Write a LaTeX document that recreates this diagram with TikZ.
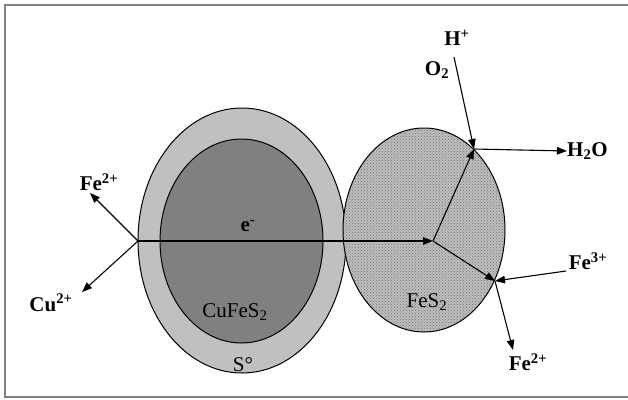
\documentclass[tikz,border=0pt]{standalone}
\usepackage{fontspec}
\setmainfont{Liberation Serif}
\usetikzlibrary{arrows.meta,patterns}
\definecolor{shell}{RGB}{192,192,192}
\definecolor{core}{RGB}{128,128,128}
\definecolor{pyr}{RGB}{190,190,190}
\begin{document}
\begin{tikzpicture}[x=1pt,y=-1pt,
  conn/.style={line width=1.1pt,-{Triangle[length=10pt,width=7.5pt]}},
  ion/.style={font=\fontsize{21}{24}\selectfont\bfseries, inner sep=0pt},
  mineral/.style={font=\fontsize{21}{24}\selectfont, inner sep=0pt},
  grain/.style={line width=1pt}]
\useasboundingbox (0,0) rectangle (628,399);
\draw[gray,line width=1.5pt] (640,5) -- (5,5) -- (5,397) -- (640,397);
% grains
\draw[grain, fill=shell] (242,240.5) ellipse [x radius=104, y radius=132.5];
\draw[grain, fill=core] (241.5,241) ellipse [x radius=81.5, y radius=102];
\fill[pyr] (424,230) ellipse [x radius=81, y radius=102];
\path[pattern=crosshatch dots, pattern color=gray!90!black] (424,230) ellipse [x radius=81, y radius=102];
\draw[grain] (424,230) ellipse [x radius=81, y radius=102];
% labels
\node[mineral] (cufes) at (235,312) {CuFeS\textsubscript{2}};
\node[mineral] (s0) at (243,365) {S°};
\node[mineral] (fes) at (427,302) {FeS\textsubscript{2}};
\node[ion] (el) at (248,226) {e\textsuperscript{-}};
\node[ion] (hp) at (457,38) {H\textsuperscript{+}};
\node[ion] (o2) at (437,70) {O\textsubscript{2}};
\node[ion, anchor=west] (h2o) at (567,151) {H\textsubscript{2}O};
\node[ion] (fe3) at (588,261) {Fe\textsuperscript{3+}};
\node[ion] (fe2r) at (528,362) {Fe\textsuperscript{2+}};
\node[ion] (fe2l) at (99,182) {Fe\textsuperscript{2+}};
\node[ion] (cu) at (51,303) {Cu\textsuperscript{2+}};
% points
\coordinate (D) at (138,241);
\coordinate (A) at (433,241);
\coordinate (B) at (474,149);
\coordinate (C) at (495,281);
\coordinate (hs) at (454,57);
\coordinate (f3s) at (566,271);
\coordinate (f2e) at (513,350);
\coordinate (fle) at (90,193);
\coordinate (cue) at (82,292);
% connectors
\draw[conn] (D) -- (A);
\draw[conn] (A) -- (B);
\draw[conn] (A) -- (C);
\draw[conn] (hs) -- (B);
\draw[conn] (B) -- (h2o.west);
\draw[conn] (f3s) -- (C);
\draw[conn] (C) -- (f2e);
\draw[conn] (D) -- (fle);
\draw[conn] (D) -- (cue);
\end{tikzpicture}
\end{document}
